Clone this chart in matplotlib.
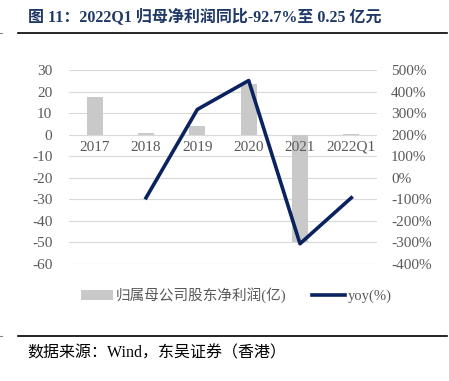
import matplotlib.pyplot as plt
import numpy as np

plt.rcParams['font.family'] = ['Liberation Serif', 'Noto Sans CJK SC']

# data
categories = ['2017', '2018', '2019', '2020', '2021', '2022Q1']
net_profit = [17.4, 0.9, 4.2, 23.3, -49.8, 0.25]          # 亿
yoy = [np.nan, -93, 317, 451, -306, -92.7]                  # %

left_ticks = list(range(-60, 31, 10))
right_ticks = list(range(-400, 501, 100))

title_color = '#1f3864'
tick_color = '#595959'
bar_color = '#c9c9c9'
line_color = '#0b2260'

fig = plt.figure(figsize=(4.49, 3.81), dpi=100)
W, H = 449, 381

# plot area in pixels: x 69..377, y 70..264
ax = fig.add_axes([69 / W, 1 - 264 / H, (377 - 69) / W, (264 - 70) / H])
x = np.arange(len(categories))
ax.bar(x, net_profit, width=0.31, color=bar_color, zorder=2,
       label='归属母公司股东净利润(亿)')
ax.set_xlim(-0.5, len(categories) - 0.5)
ax.set_ylim(-60, 30)
ax.set_yticks(left_ticks)
ax.set_yticklabels([str(t) for t in left_ticks])
ax.yaxis.grid(True, color='#d9d9d9', linewidth=0.8, zorder=0)
ax.set_xticks([])
for s in ax.spines.values():
    s.set_visible(False)
ax.tick_params(axis='y', length=0, labelsize=11, labelcolor=tick_color, pad=12)

# category labels sit just under the zero line
for xi, c in zip(x, categories):
    ax.text(xi, -2.8, c, ha='center', va='top', fontsize=11, color=tick_color)

ax2 = ax.twinx()
ax2.plot(x, yoy, color=line_color, linewidth=2.6, zorder=3, label='yoy(%)')
ax2.set_ylim(-400, 500)
ax2.set_yticks(right_ticks)
ax2.set_yticklabels([f'{t}%' for t in right_ticks])
for s in ax2.spines.values():
    s.set_visible(False)
ax2.tick_params(axis='y', length=0, labelsize=11, labelcolor=tick_color, pad=10)

h1, l1 = ax.get_legend_handles_labels()
h2, l2 = ax2.get_legend_handles_labels()
fig.legend(h1 + h2, l1 + l2, loc='center', bbox_to_anchor=(236 / W, 1 - 295 / H),
           ncol=2, frameon=False, fontsize=10.5, labelcolor=tick_color,
           handlelength=2.2, handletextpad=0.2, columnspacing=1.8)

# title and source
fig.text(28 / W, 1 - 17 / H, '图 11：2022Q1 归母净利润同比-92.7%至 0.25 亿元',
         fontsize=11.5, fontweight='bold', color=title_color, va='center', ha='left')
fig.add_artist(plt.Line2D([18 / W, 447 / W], [1 - 32.7 / H] * 2, color='black', linewidth=1.2))
fig.add_artist(plt.Line2D([0, 2 / W], [1 - 33 / H] * 2, color='#888888', linewidth=0.8))
fig.add_artist(plt.Line2D([18 / W, 447 / W], [1 - 336 / H] * 2, color='black', linewidth=1.2))
fig.add_artist(plt.Line2D([0, 2 / W], [1 - 336 / H] * 2, color='#888888', linewidth=0.8))
fig.text(27 / W, 1 - 353 / H, '数据来源：Wind，东吴证券（香港）',
         fontsize=11.5, color='black', va='center', ha='left')

fig.savefig('out.png', dpi=100)
